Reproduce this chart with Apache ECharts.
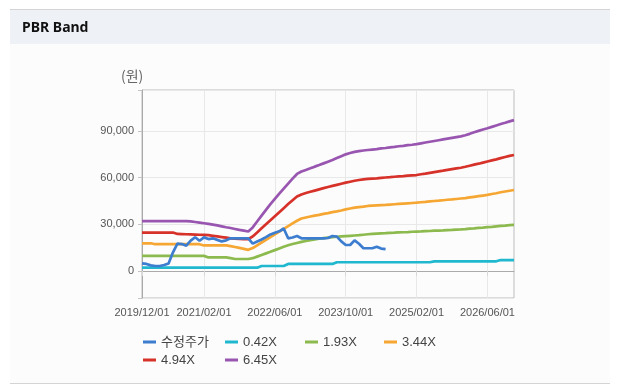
<!DOCTYPE html>
<html>
<head>
<meta charset="utf-8">
<script src="https://cdn.jsdelivr.net/npm/echarts@6/dist/echarts.min.js"></script>
<style>
html,body{margin:0;padding:0;background:#fff;}
#chart{width:622px;height:390px;}
</style>
</head>
<body>
<div id="chart"></div>
<script>
// ---- data ----
const months = [
  '2019/12/01',
  '2020/01/01','2020/02/01','2020/03/01','2020/04/01','2020/05/01','2020/06/01','2020/07/01','2020/08/01','2020/09/01','2020/10/01','2020/11/01','2020/12/01',
  '2021/01/01','2021/02/01','2021/03/01','2021/04/01','2021/05/01','2021/06/01','2021/07/01','2021/08/01','2021/09/01','2021/10/01','2021/11/01','2021/12/01',
  '2022/01/01','2022/02/01','2022/03/01','2022/04/01','2022/05/01','2022/06/01','2022/07/01','2022/08/01','2022/09/01','2022/10/01','2022/11/01','2022/12/01',
  '2023/01/01','2023/02/01','2023/03/01','2023/04/01','2023/05/01','2023/06/01','2023/07/01','2023/08/01','2023/09/01','2023/10/01','2023/11/01','2023/12/01',
  '2024/01/01','2024/02/01','2024/03/01','2024/04/01','2024/05/01','2024/06/01','2024/07/01','2024/08/01','2024/09/01','2024/10/01','2024/11/01','2024/12/01',
  '2025/01/01','2025/02/01','2025/03/01','2025/04/01','2025/05/01','2025/06/01','2025/07/01','2025/08/01','2025/09/01','2025/10/01','2025/11/01','2025/12/01',
  '2026/01/01','2026/02/01','2026/03/01','2026/04/01','2026/05/01','2026/06/01','2026/07/01','2026/08/01','2026/09/01','2026/10/01','2026/11/01','2026/12/01'
];
const labelIndices = [0, 14, 30, 46, 62, 78];

const seriesNames = ['수정주가', '0.42X', '1.93X', '3.44X', '4.94X', '6.45X'];

const price = [
  4900, 4500, 3600, 3200, 3200, 3800, 4800, 12000, 17600, 17300,
  16300, 19500, 21700, 19400, 21600, 20500, 21000, 20000, 19000, 19700,
  21000, 21000, 21000, 21000, 21000, 17600, 19000, 20200, 21800, 23500,
  24600, 25500, 27300, 21000, 21500, 22500, 21000, 21000, 21000, 21000,
  21000, 21000, 21200, 22500, 22100, 19000, 16700, 16700, 19700, 17500,
  14600, 14600, 14600, 15600, 14400, 14000
];

const pbr042 = [
  2100, 2100, 2100, 2100, 2100, 2100, 2100, 2100, 2100, 2100,
  2100, 2100, 2100, 2100, 2100, 2100, 2100, 2100, 2100, 2100,
  2100, 2100, 2100, 2100, 2100, 2100, 2100, 3200, 3200, 3200,
  3200, 3200, 3200, 4500, 4500, 4500, 4500, 4500, 4500, 4500,
  4500, 4500, 4500, 4500, 5600, 5600, 5600, 5600, 5600, 5600,
  5600, 5600, 5600, 5600, 5600, 5600, 5600, 5600, 5600, 5600,
  5600, 5600, 5600, 5600, 5600, 5600, 6200, 6200, 6200, 6200,
  6200, 6200, 6200, 6200, 6200, 6200, 6200, 6200, 6200, 6200,
  6200, 7000, 7000, 7000, 7000
];

const pbr193 = [
  9700, 9700, 9700, 9700, 9700, 9700, 9700, 9700, 9700, 9700,
  9700, 9700, 9700, 9700, 9700, 8700, 8700, 8700, 8700, 8700,
  8200, 7700, 7700, 7700, 7700, 8200, 9200, 10200, 11300, 12300,
  13400, 14500, 15600, 16500, 17300, 18000, 18700, 19300, 19800, 20300,
  20700, 21100, 21400, 21700, 22000, 22200, 22400, 22600, 22800, 23000,
  23300, 23600, 23800, 24000, 24200, 24300, 24500, 24600, 24800, 24900,
  25000, 25200, 25300, 25400, 25600, 25700, 25900, 26000, 26100, 26300,
  26400, 26600, 26700, 26900, 27200, 27400, 27700, 27900, 28200, 28400,
  28700, 29000, 29200, 29500, 29600
];

const pbr344 = [
  17800, 17800, 17800, 17200, 17200, 17200, 17200, 17200, 17200, 17200,
  17200, 17200, 17200, 17200, 16400, 16400, 16400, 16400, 16400, 16400,
  16000, 15400, 14800, 14200, 13600, 14700, 16500, 18300, 20000, 21800,
  23600, 25300, 27100, 28800, 30600, 32300, 33700, 34400, 35000, 35600,
  36100, 36700, 37200, 37800, 38300, 38900, 39600, 40200, 40700, 41100,
  41400, 41800, 42000, 42200, 42400, 42500, 42700, 42900, 43100, 43300,
  43500, 43700, 43900, 44200, 44400, 44700, 45000, 45200, 45500, 45800,
  46000, 46300, 46600, 46900, 47300, 47700, 48100, 48500, 48900, 49500,
  50000, 50600, 51100, 51600, 52100
];

const pbr494 = [
  24700, 24700, 24700, 24700, 24700, 24700, 24700, 24700, 23800, 23700,
  23600, 23500, 23400, 23300, 23200, 23000, 22600, 22200, 21800, 21400,
  21000, 20800, 20600, 20500, 20400, 22200, 24800, 27400, 30000, 32600,
  35200, 37800, 40400, 43000, 45500, 47900, 49200, 50100, 50900, 51700,
  52500, 53300, 54000, 54700, 55400, 56100, 56800, 57400, 58000, 58500,
  58900, 59200, 59400, 59600, 59900, 60100, 60300, 60600, 60800, 61000,
  61300, 61500, 61700, 62200, 62600, 63100, 63600, 64100, 64500, 65000,
  65500, 66000, 66400, 67000, 67700, 68400, 69000, 69700, 70400, 71100,
  71800, 72600, 73300, 74000, 74600
];

const pbr645 = [
  32000, 32000, 32000, 32000, 32000, 32000, 32000, 32000, 32000, 32000,
  32000, 31900, 31500, 31100, 30700, 30300, 29800, 29300, 28700, 28100,
  27600, 27000, 26400, 25900, 25400, 28000, 31800, 35600, 39300, 43000,
  46400, 49700, 53000, 56200, 59400, 62400, 64000, 65000, 66000, 67100,
  68100, 69200, 70300, 71400, 72600, 73800, 75000, 75900, 76600, 77100,
  77500, 77800, 78100, 78400, 78800, 79100, 79500, 79800, 80200, 80500,
  80900, 81200, 81600, 82100, 82600, 83100, 83600, 84100, 84600, 85100,
  85600, 86100, 86600, 87300, 88200, 89200, 90100, 91000, 91800, 92700,
  93600, 94500, 95300, 96200, 97000
];

const yTickLabels = [0, 30000, 60000, 90000];

// ---- styles ----
const colors = ['#3c7dd0', '#1fb8cf', '#8dba4e', '#f6a733', '#d7322a', '#9856b0'];
const seriesData = [price, pbr042, pbr193, pbr344, pbr494, pbr645];
const legendPos = [[143, 335], [225, 335], [305, 335], [384, 335], [143, 353], [225, 353]];

const isLabelIdx = (i) => labelIndices.indexOf(i) >= 0;

const chart = echarts.init(document.getElementById('chart'), null, {renderer: 'canvas'});

const option = {
  animation: false,
  backgroundColor: '#ffffff',
  textStyle: {fontFamily: '"Liberation Sans", Arial, "Noto Sans CJK KR", sans-serif'},
  graphic: [
    {type: 'rect', z: -10, shape: {x: 10, y: 10, width: 600, height: 373}, style: {fill: '#fcfcfc'}},
    {type: 'rect', z: -9, shape: {x: 10, y: 10, width: 600, height: 34}, style: {fill: '#eef2f7'}},
    {type: 'line', z: -8, shape: {x1: 10, y1: 9.5, x2: 610, y2: 9.5}, style: {stroke: '#d4d4d4', lineWidth: 1}},
    {type: 'line', z: -8, shape: {x1: 10, y1: 383.5, x2: 610, y2: 383.5}, style: {stroke: '#d4d4d4', lineWidth: 1}},
    {type: 'text', left: 22, top: 21, style: {text: 'PBR Band', font: 'bold 14px "Noto Sans", sans-serif', fill: '#111'}},
    {type: 'text', left: 121, top: 69, style: {text: '(원)', font: '14px "Noto Sans CJK KR", sans-serif', fill: '#666'}}
  ],
  grid: {
    left: 142, top: 90, width: 372, height: 208,
    show: true, borderColor: '#bdbdbd', borderWidth: 1, backgroundColor: 'transparent'
  },
  legend: seriesNames.map((name, i) => ({
    data: [{name: name, icon: 'rect'}],
    left: legendPos[i][0], top: legendPos[i][1],
    padding: 0, itemWidth: 13, itemHeight: 3, itemGap: 0,
    selectedMode: false,
    textStyle: {fontSize: 13, color: '#444', lineHeight: 14,
      fontFamily: '"Liberation Sans", Arial, "Noto Sans CJK KR", sans-serif'}
  })),
  xAxis: {
    type: 'category',
    data: months,
    boundaryGap: false,
    axisLine: {lineStyle: {color: '#aaaaaa'}},
    axisTick: {show: true, length: 5, interval: (i) => isLabelIdx(i), lineStyle: {color: '#d8d8d8'}},
    axisLabel: {interval: (i) => isLabelIdx(i), fontSize: 11, color: '#555', margin: 9},
    splitLine: {show: true, interval: (i) => isLabelIdx(i), lineStyle: {color: '#e8e8e8'}}
  },
  yAxis: {
    type: 'value',
    min: -17400,
    max: 116400,
    splitNumber: 5,
    axisLine: {show: true, lineStyle: {color: '#aaaaaa'}},
    axisTick: {show: true, length: 4, lineStyle: {color: '#c4c4c4'}},
    axisLabel: {
      fontSize: 11, color: '#555', margin: 8,
      formatter: (v) => yTickLabels.indexOf(v) >= 0 ? v.toLocaleString('en-US') : ''
    },
    splitLine: {show: true, lineStyle: {color: '#e8e8e8'}}
  },
  series: seriesNames.map((name, i) => ({
    name: name,
    type: 'line',
    data: seriesData[i],
    showSymbol: false,
    symbol: 'none',
    z: i === 0 ? 5 : 2,
    itemStyle: {color: colors[i]},
    lineStyle: {color: colors[i], width: 2.7},
    emphasis: {disabled: true}
  }))
};

chart.setOption(option);
</script>
</body>
</html>
